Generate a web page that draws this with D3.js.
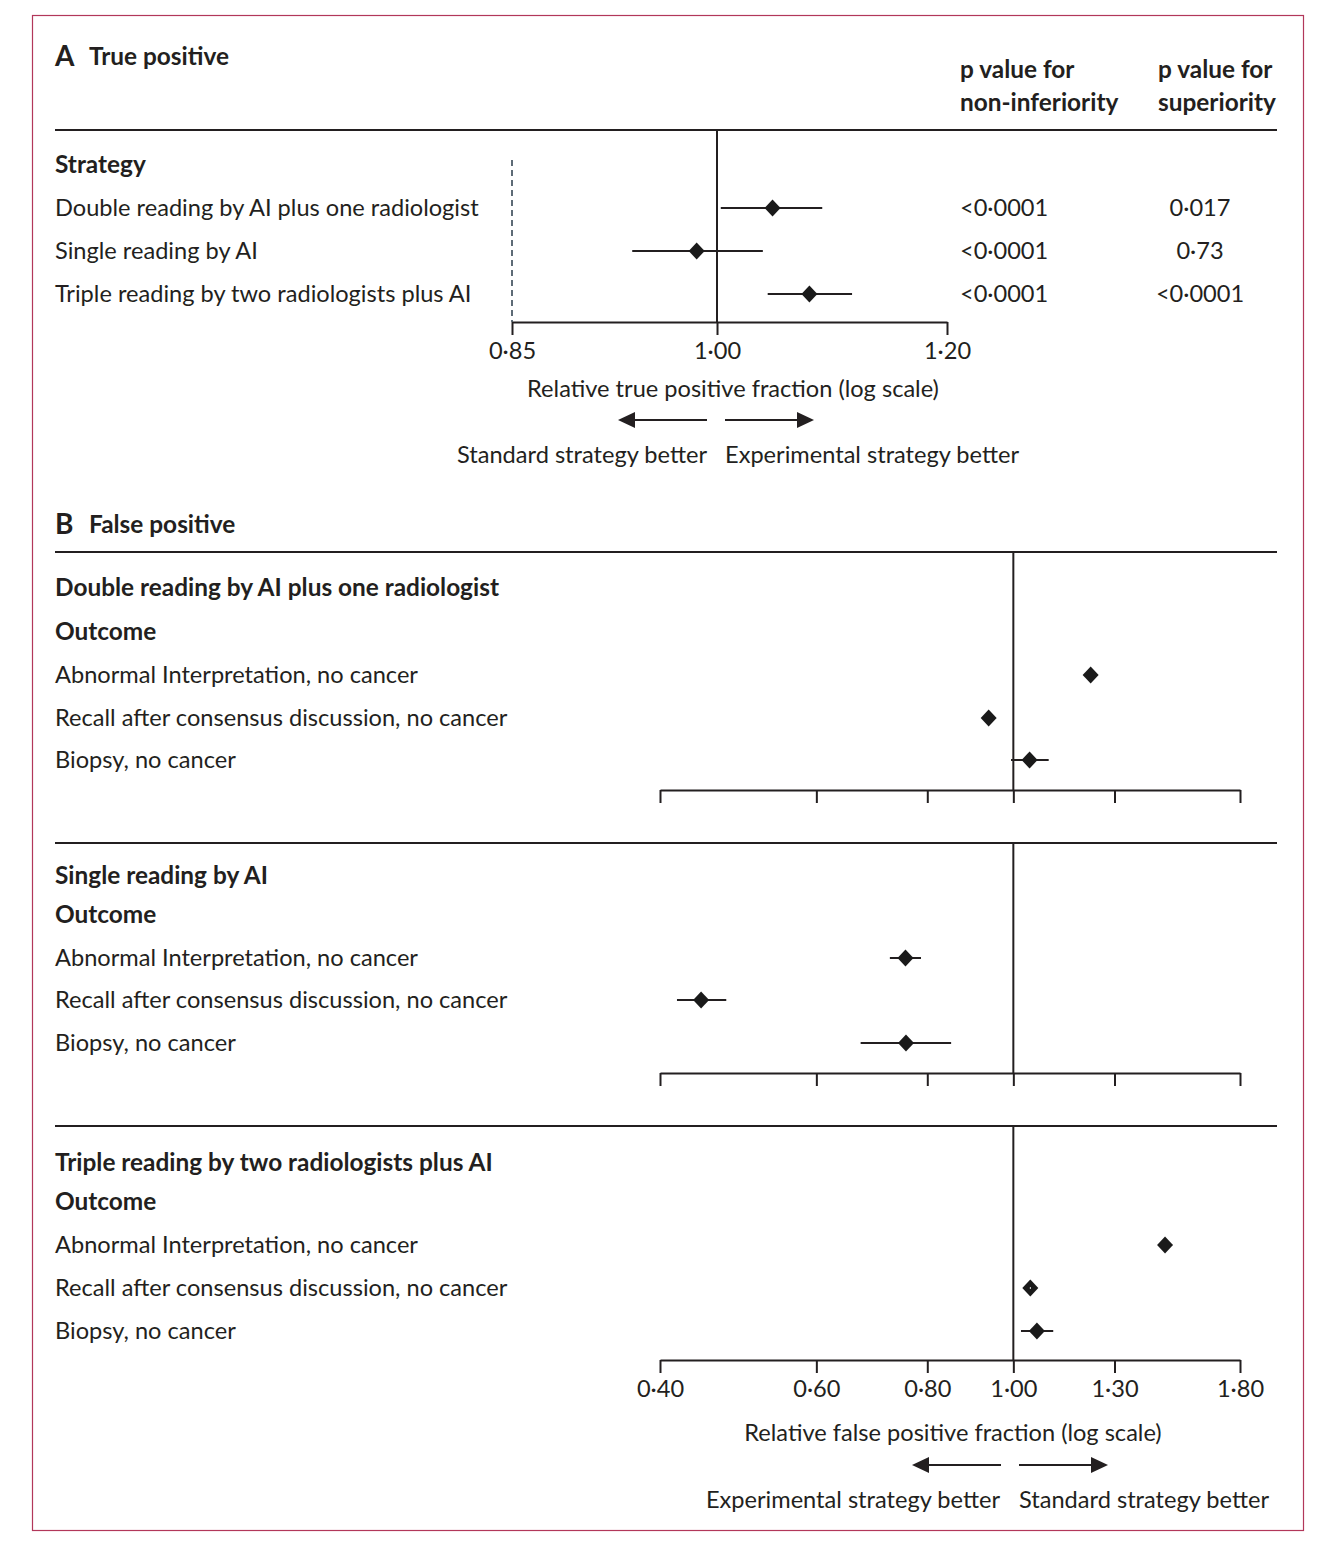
<!DOCTYPE html>
<html><head><meta charset="utf-8">
<script src="https://cdn.jsdelivr.net/npm/d3@7"></script>
<style>
body{margin:0;background:#fff;}
svg text{font-family:Lato,"Noto Sans",sans-serif;fill:#231f20;}
</style></head>
<body><svg id="c" width="1336" height="1542"></svg>
<script>
// ---------- DATA ----------
const tpStrategies = ["Double reading by AI plus one radiologist","Single reading by AI","Triple reading by two radiologists plus AI"];
const tpEst  = [1.045, 0.984, 1.076];
const tpLow  = [1.003, 0.935, 1.041];
const tpHigh = [1.087, 1.037, 1.113];
const pNonInf = ["<0·0001","<0·0001","<0·0001"];
const pSup    = ["0·017","0·73","<0·0001"];
const tpTicks = [0.85, 1.00, 1.20];
const tpTickLabels = ["0·85","1·00","1·20"];
const tpMargin = 0.85;

const fpStrategies = ["Double reading by AI plus one radiologist","Single reading by AI","Triple reading by two radiologists plus AI"];
const fpOutcomes = ["Abnormal Interpretation, no cancer","Recall after consensus discussion, no cancer","Biopsy, no cancer"];
const fpEstDouble  = [1.222, 0.938, 1.043];
const fpLowDouble  = [1.210, 0.928, 0.994];
const fpHighDouble = [1.235, 0.948, 1.096];
const fpEstSingle  = [0.756, 0.445, 0.757];
const fpLowSingle  = [0.726, 0.418, 0.673];
const fpHighSingle = [0.787, 0.475, 0.851];
const fpEstTriple  = [1.482, 1.045, 1.063];
const fpLowTriple  = [1.470, 1.038, 1.020];
const fpHighTriple = [1.495, 1.052, 1.109];
const fpTicks = [0.40, 0.60, 0.80, 1.00, 1.30, 1.80];
const fpTickLabels = ["0·40","0·60","0·80","1·00","1·30","1·80"];

// ---------- DRAW ----------
const svg = d3.select("#c");
const ink = "#231f20";
const REG = 23.6, BOLD = 24.4;
svg.append("rect").attr("x",32.5).attr("y",15.5).attr("width",1271).attr("height",1515)
  .attr("fill","none").attr("stroke","#b2375a").attr("stroke-width",1.2);

function txt(x,y,s,opt={}){
  return svg.append("text").attr("x",x).attr("y",y+2).text(s)
    .attr("font-size",opt.size||(opt.bold?BOLD:REG)).attr("font-weight",opt.bold?700:400)
    .attr("text-anchor",opt.anchor||"start").attr("dominant-baseline","middle");
}
function rule(y){
  svg.append("line").attr("x1",55).attr("x2",1277).attr("y1",y).attr("y2",y)
    .attr("stroke",ink).attr("stroke-width",2);
}
function diamond(g,x,y){
  const w=8,h=8.5;
  g.append("path").attr("d",`M${x-w},${y}L${x},${y-h}L${x+w},${y}L${x},${y+h}Z`).attr("fill","#1a1a1a");
}
function arrows(cx,y,gap){
  const a=svg.append("g").attr("stroke",ink).attr("stroke-width",2).attr("fill",ink);
  a.append("line").attr("x1",cx-gap).attr("x2",cx-gap-76).attr("y1",y).attr("y2",y);
  a.append("path").attr("d",`M${cx-gap-89},${y}L${cx-gap-72},${y-8}L${cx-gap-72},${y+8}Z`).attr("stroke","none");
  a.append("line").attr("x1",cx+gap).attr("x2",cx+gap+76).attr("y1",y).attr("y2",y);
  a.append("path").attr("d",`M${cx+gap+89},${y}L${cx+gap+72},${y-8}L${cx+gap+72},${y+8}Z`).attr("stroke","none");
}
function styleAxis(g){
  g.select(".domain").attr("stroke",ink).attr("stroke-width",2);
  g.selectAll(".tick line").attr("stroke",ink).attr("stroke-width",2);
  g.selectAll(".tick text").attr("font-size",REG).attr("font-family","Lato").attr("fill",ink)
    .attr("dy",0).attr("y",31).attr("dominant-baseline","middle");
}

// Panel A
txt(55,57,"A",{bold:true,size:28});
txt(89,57,"True positive",{bold:true});
txt(960,70,"p value for",{bold:true});
txt(960,103,"non-inferiority",{bold:true});
txt(1158,70,"p value for",{bold:true});
txt(1158,103,"superiority",{bold:true});
rule(130);
txt(55,165,"Strategy",{bold:true});
const xA = d3.scaleLog().domain([0.85,1.20]).range([512,947]);
const rowYA = d3.scalePoint().domain(d3.range(3)).range([208,294]);
const axisYA = 322;
svg.append("line").attr("x1",xA(tpMargin)).attr("x2",xA(tpMargin)).attr("y1",160).attr("y2",axisYA)
  .attr("stroke","#5d6b76").attr("stroke-width",2).attr("stroke-dasharray","6,4");
svg.append("line").attr("x1",xA(1)).attr("x2",xA(1)).attr("y1",131).attr("y2",axisYA)
  .attr("stroke",ink).attr("stroke-width",2);
const gA = svg.append("g").attr("transform",`translate(0,${axisYA})`)
  .call(d3.axisBottom(xA).tickValues(tpTicks).tickSize(13).tickSizeOuter(0).tickFormat((d,i)=>tpTickLabels[i]));
styleAxis(gA);
const mA = svg.append("g");
tpStrategies.forEach((s,i)=>{
  const y=rowYA(i);
  txt(55,y,s);
  mA.append("line").attr("x1",xA(tpLow[i])).attr("x2",xA(tpHigh[i])).attr("y1",y).attr("y2",y).attr("stroke",ink).attr("stroke-width",2);
  diamond(mA,xA(tpEst[i]),y);
  txt(960,y,pNonInf[i]);
  txt(1200,y,pSup[i],{anchor:"middle"});
});
txt(733,389,"Relative true positive fraction (log scale)",{anchor:"middle"});
arrows(716,420,9);
txt(707,455,"Standard strategy better",{anchor:"end"});
txt(725,455,"Experimental strategy better");

// Panel B
txt(55,525,"B",{bold:true,size:28});
txt(89,525,"False positive",{bold:true});
const xB = d3.scaleLog().domain([0.40,1.80]).range([660,1240]);
const fpEst=[fpEstDouble,fpEstSingle,fpEstTriple];
const fpLow=[fpLowDouble,fpLowSingle,fpLowTriple];
const fpHigh=[fpHighDouble,fpHighSingle,fpHighTriple];
const secTop=[552,843,1126];
const titleY=[588,876,1163];
const outcomeY=[632,915,1202];
const rowsY=[[675,718,760],[958,1000,1043],[1245,1288,1331]];
const axisY=[790,1073,1360];
fpStrategies.forEach((s,k)=>{
  rule(secTop[k]);
  txt(55,titleY[k],s,{bold:true});
  txt(55,outcomeY[k],"Outcome",{bold:true});
  svg.append("line").attr("x1",xB(1)).attr("x2",xB(1)).attr("y1",secTop[k]+1).attr("y2",axisY[k])
    .attr("stroke",ink).attr("stroke-width",2);
  const g = svg.append("g").attr("transform",`translate(0,${axisY[k]})`)
    .call(d3.axisBottom(xB).tickValues(fpTicks).tickSize(13).tickSizeOuter(0)
      .tickFormat((d,i)=> k===2 ? fpTickLabels[i] : ""));
  styleAxis(g);
  const m = svg.append("g");
  fpOutcomes.forEach((o,i)=>{
    const y=rowsY[k][i];
    txt(55,y,o);
    m.append("line").attr("x1",xB(fpLow[k][i])).attr("x2",xB(fpHigh[k][i])).attr("y1",y).attr("y2",y).attr("stroke",ink).attr("stroke-width",2);
    diamond(m,xB(fpEst[k][i]),y);
    if(k===2 && i===1){
      m.append("line").attr("x1",xB(fpLow[k][i])+3).attr("x2",xB(fpHigh[k][i])-3).attr("y1",y).attr("y2",y).attr("stroke","#fff").attr("stroke-width",2);
    }
  });
});
txt(953,1433,"Relative false positive fraction (log scale)",{anchor:"middle"});
arrows(1010,1465,9);
txt(1000,1500,"Experimental strategy better",{anchor:"end"});
txt(1019,1500,"Standard strategy better");
</script></body></html>
